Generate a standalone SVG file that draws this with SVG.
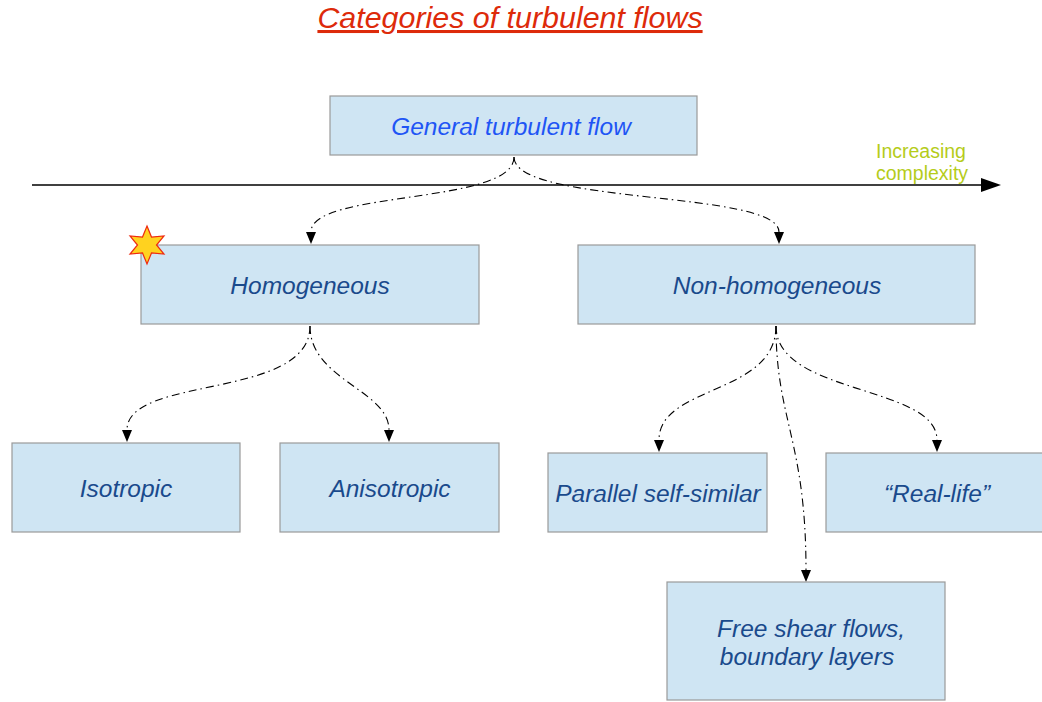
<svg xmlns="http://www.w3.org/2000/svg" width="1042" height="702" viewBox="0 0 1042 702">
<style>
.box{fill:#cfe5f3;stroke:#9a9a9a;stroke-width:1.2}
.t{font-family:"Liberation Sans",Arial,sans-serif;font-style:italic;font-size:24.5px;fill:#1a4a8c;text-anchor:middle}
.c{fill:none;stroke:#000;stroke-width:1.1;stroke-dasharray:8 4 1.5 4}
.g{font-family:"Liberation Sans",Arial,sans-serif;font-size:19.5px;fill:#b5cc1a}
</style>
<defs>
<marker id="big" markerWidth="20" markerHeight="14" refX="2" refY="7" orient="auto" markerUnits="userSpaceOnUse" viewBox="0 0 20 14">
<path d="M0,0 L20,7 L0,14 Z" fill="#000"/>
</marker>
</defs>
<rect width="1042" height="702" fill="#fff"/>
<text x="510" y="28" font-family="Liberation Sans,Arial,sans-serif" font-style="italic" font-size="30.4" fill="#dd2a0a" text-anchor="middle" text-decoration="underline">Categories of turbulent flows</text>
<g id="axis">
<line x1="32" y1="185" x2="983" y2="185" stroke="#000" stroke-width="1.3" marker-end="url(#big)"/>
<text class="g" x="876" y="158">Increasing</text>
<text class="g" x="876" y="180">complexity</text>
</g>
<g id="connectors">
<path class="c" d="M514,157 C514,205 311,190 311,232"/>
<path class="c" d="M514,157 C514,205 779,190 779,232"/>
<path class="c" d="M310,326 C310,400 127,375 127,430"/>
<path class="c" d="M310,326 C310,380 389,390 389,430"/>
<path class="c" d="M776,326 C776,395 659,385 659,440"/>
<path class="c" d="M776,326 C776,395 937,385 937,440"/>
<path class="c" d="M776,326 C776,420 806,440 806,570"/>
<g fill="#000">
<path d="M306,232 L316,232 L311,244 Z"/>
<path d="M774,232 L784,232 L779,244 Z"/>
<path d="M122,430 L132,430 L127,442 Z"/>
<path d="M384,430 L394,430 L389,442 Z"/>
<path d="M654,440 L664,440 L659,452 Z"/>
<path d="M932,440 L942,440 L937,452 Z"/>
<path d="M801,570 L811,570 L806,582 Z"/>
</g>
</g>
<g id="general">
<rect class="box" x="330" y="96" width="367" height="59"/>
<text class="t" x="511" y="135" style="fill:#1f55f5">General turbulent flow</text>
</g>
<g id="homogeneous">
<rect class="box" x="141" y="245" width="338" height="79"/>
<text class="t" x="310" y="294">Homogeneous</text>
</g>
<g id="star">
<polygon points="147,226 151.5,237 164,236 156.5,245 164,254 151.5,253 147,264 142.5,253 130,254 137.5,245 130,236 142.5,237" fill="#ffd21f" stroke="#ee2a10" stroke-width="1.2"/>
</g>
<g id="nonhomogeneous">
<rect class="box" x="578" y="245" width="397" height="79"/>
<text class="t" x="777" y="294">Non-homogeneous</text>
</g>
<g id="isotropic">
<rect class="box" x="12" y="443" width="228" height="89"/>
<text class="t" x="126" y="497">Isotropic</text>
</g>
<g id="anisotropic">
<rect class="box" x="280" y="443" width="219" height="89"/>
<text class="t" x="390" y="497">Anisotropic</text>
</g>
<g id="parallel">
<rect class="box" x="548" y="453" width="219" height="79"/>
<text class="t" x="658" y="502">Parallel self-similar</text>
</g>
<g id="reallife">
<rect class="box" x="826" y="453" width="220" height="79"/>
<text class="t" x="937" y="502">“Real-life”</text>
</g>
<g id="freeshear">
<rect class="box" x="667" y="582" width="278" height="118"/>
<text class="t" x="811" y="637">Free shear flows,</text>
<text class="t" x="807" y="665">boundary layers</text>
</g>
</svg>
